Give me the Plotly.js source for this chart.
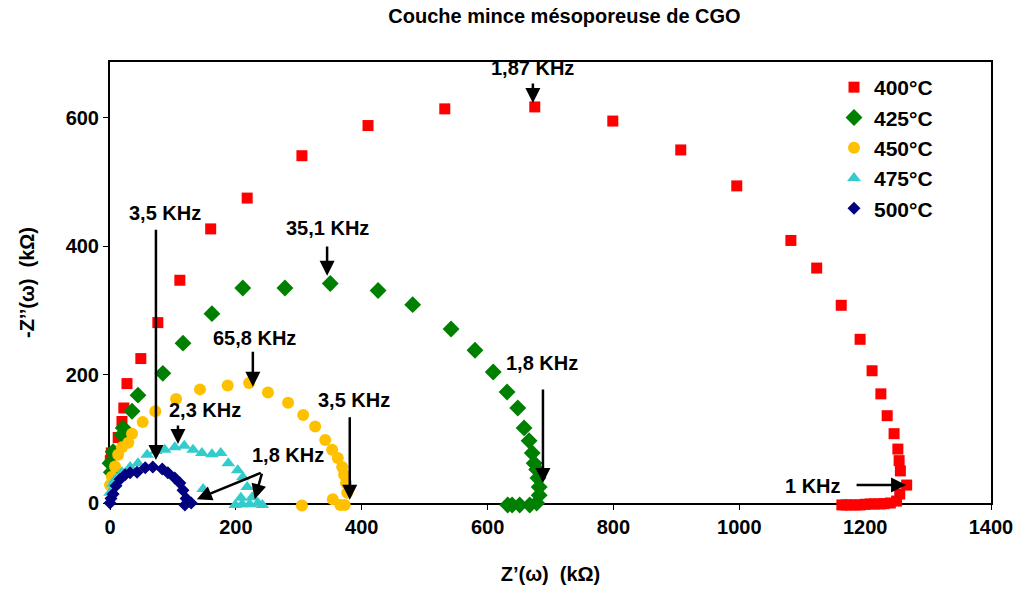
<!DOCTYPE html>
<html>
<head>
<meta charset="utf-8">
<script src="https://cdn.plot.ly/plotly-3.0.1.min.js"></script>
<style>html,body{margin:0;padding:0;background:#fff;}#chart{width:1019px;height:592px;}</style>
</head>
<body>
<div id="chart"></div>
<script>
// Series names
const seriesNames = ['400°C', '425°C', '450°C', '475°C', '500°C'];

// 400°C
const red400X = [0.5, 2, 13, 19, 22, 27, 49, 76, 111, 160, 218, 305, 410, 532, 675, 799, 907, 996, 1082, 1123, 1162, 1192, 1211, 1225, 1235, 1246, 1252, 1254, 1256, 1266, 1255, 1250, 1240, 1230, 1224, 1215, 1208, 1200, 1192, 1185, 1176, 1170, 1163];
const red400Y = [66, 78, 102, 127, 148, 186, 225, 281, 347, 427, 475, 541, 588, 614, 617, 595, 550, 494, 409, 366, 308, 255, 206, 170, 136, 108, 84, 66, 50, 28, 14, 3, 0, -1, -1.5, -1.5, -1.5, -2, -3, -3, -3, -3, -3];

// 425°C
const green425X = [0, 2, 5, 19, 21, 35, 44.5, 84, 116, 162, 211, 278, 350, 426, 481, 542, 580, 609, 631, 648, 658, 666, 671, 674, 678, 680, 682, 682, 678, 667, 651, 639, 632];
const green425Y = [62, 48, 80, 106, 117, 143, 168, 202, 249, 295, 335, 335, 342, 331, 309, 271, 238, 204, 173, 148, 117, 97, 78, 62, 52, 39, 25, 12, 0, -3, -3, -3, -3];

// 450°C
const yellow450X = [0, 3, 8, 13, 19, 29, 35, 52, 72, 105, 143, 187, 221, 251, 283, 307, 326, 342, 353, 362, 369, 372, 375, 377, 373, 366, 354, 305];
const yellow450Y = [28, 41, 57, 75, 87, 94, 108, 126, 143, 162, 177, 183, 187, 172, 156, 137, 119, 98, 83, 70, 56, 44, 31, 16, -3, -3, 6, -4];

// 475°C
const cyan475X = [0, 5, 8, 19, 32, 44.5, 59, 73, 87, 103, 118, 132, 146, 162, 176, 188, 203, 211, 218, 226, 235, 242, 222, 210, 199, 208, 148];
const cyan475Y = [16, 30, 36, 48, 56, 62, 75, 81, 83, 87, 89, 83, 78, 76, 78, 62, 51, 40, 25, 9, 0, -3, -2, -2, -3, 8, 22];

// 500°C
const navy500X = [0, 1.6, 5, 9.5, 16, 24, 32, 43, 56, 68, 83, 92, 103, 111, 116, 121, 119, 129];
const navy500Y = [0, 7, 14, 27, 37, 44, 47, 48, 55, 56, 53, 47, 39, 31, 20, 7, -3, 0];

// Axis ticks
const xTickVals = [0, 200, 400, 600, 800, 1000, 1200, 1400];
const yTickVals = [0, 200, 400, 600];

// Frequency labels: text, text position, arrow tail, arrow head (data units)
const freqLabels = ['1,87 KHz', '35,1 KHz', '3,5 KHz', '65,8 KHz', '1,8 KHz', '3,5 KHz', '2,3 KHz', '1,8 KHz', '1 KHz'];
const labelX = [672, 345, 87, 230, 686, 388, 151, 283, 1117];
const labelY = [678, 428, 452, 257, 218, 160, 145, 75, 26];
const arrowTailX = [672, 345, 73, 227, 688, 381, 108, 242, 242, 1184];
const arrowTailY = [656, 402, 428, 238, 179, 136, 123, 48, 48, 28];
const arrowHeadX = [672, 345, 73, 227, 688, 381, 108, 138, 230, 1265];
const arrowHeadY = [623, 354, 67, 181, 31, 5, 92, 6, 6, 28];

const FONT = 'Liberation Sans, Arial, sans-serif';

// Plot geometry (pixels)
const W = 1019, H = 592;
const plotL = 110, plotR = 991, plotT = 62, plotB = 503;
const pad = 24; // extra room so markers below/left of the axes stay visible
const xRange = [0, 1400], yRange = [0, 687];
const outerL = plotL - pad, outerB = plotB + pad;
const outerW = plotR - outerL, outerH = outerB - plotT;
const xScale = (plotR - plotL) / (xRange[1] - xRange[0]);
const yScale = (plotB - plotT) / (yRange[1] - yRange[0]);
const x2Range = [xRange[0] - pad / xScale, xRange[1]];
const y2Range = [yRange[0] - pad / yScale, yRange[1]];

function tr(name, x, y, symbol, color, size, i) {
  return {
    type: 'scatter', mode: 'markers', name: name, x: x, y: y,
    xaxis: 'x2', yaxis: 'y2', legendgroup: 'g' + i,
    cliponaxis: false,
    marker: {symbol: symbol, color: color, size: size, line: {width: 0}}
  };
}

const data = [
  tr(seriesNames[0], red400X, red400Y, 'square', '#FF0000', 11, 0),
  tr(seriesNames[1], green425X, green425Y, 'diamond', '#008000', 13, 1),
  tr(seriesNames[2], yellow450X, yellow450Y, 'circle', '#FFC000', 12, 2),
  tr(seriesNames[3], cyan475X, cyan475Y, 'triangle-up', '#33CCCC', 12, 3),
  tr(seriesNames[4], navy500X, navy500Y, 'diamond', '#000080', 10, 4)
];

const annotations = [];
freqLabels.forEach((t, i) => {
  annotations.push({
    x: labelX[i], y: labelY[i], xref: 'x', yref: 'y', text: t, showarrow: false,
    font: {family: FONT, size: 20, color: '#000', weight: 'bold'}
  });
});
arrowHeadX.forEach((hx, i) => {
  annotations.push({
    x: hx, y: arrowHeadY[i], xref: 'x', yref: 'y',
    ax: arrowTailX[i], ay: arrowTailY[i], axref: 'x', ayref: 'y',
    text: '', showarrow: true, arrowhead: 2, arrowsize: 1.2, arrowwidth: 2.5,
    arrowcolor: '#000', standoff: 0, startstandoff: 0
  });
});

const axisCommon = {
  showgrid: false, zeroline: false, showline: true, linecolor: '#000', linewidth: 2,
  mirror: true, ticks: 'outside', ticklen: 5, tickcolor: '#000', tickwidth: 1,
  tickfont: {family: FONT, size: 20, weight: 'bold'}
};
const hiddenAxis = {showgrid: false, zeroline: false, showline: false, showticklabels: false, ticks: ''};

const layout = {
  width: W, height: H,
  paper_bgcolor: '#fff', plot_bgcolor: 'rgba(0,0,0,0)',
  margin: {l: outerL, r: W - plotR, t: plotT, b: H - outerB},
  font: {family: FONT, color: '#000'},
  title: {
    text: 'Couche mince mésoporeuse de CGO',
    font: {family: FONT, size: 20, weight: 'bold', color: '#000'},
    x: 0.554, xref: 'container', y: 0.985, yref: 'container', yanchor: 'top'
  },
  xaxis: Object.assign({}, axisCommon, {
    domain: [pad / outerW, 1], anchor: 'y',
    range: xRange, tickvals: xTickVals, ticktext: xTickVals.map(String),
    title: {text: 'Z’(ω)  (kΩ)', font: {family: FONT, size: 20, weight: 'bold'}, standoff: 30}
  }),
  yaxis: Object.assign({}, axisCommon, {
    domain: [pad / outerH, 1], anchor: 'x',
    range: yRange, tickvals: yTickVals, ticktext: yTickVals.map(String),
    title: {text: '-Z’’(ω)  (kΩ)', font: {family: FONT, size: 20, weight: 'bold'}, standoff: 26}
  }),
  xaxis2: Object.assign({}, hiddenAxis, {domain: [0, 1], range: x2Range, anchor: 'y2'}),
  yaxis2: Object.assign({}, hiddenAxis, {domain: [0, 1], range: y2Range, anchor: 'x2'}),
  legend: {
    x: (834 - outerL) / outerW, y: (outerB - 67) / outerH, xanchor: 'left', yanchor: 'top',
    bgcolor: 'rgba(0,0,0,0)', borderwidth: 0,
    font: {family: FONT, size: 21, weight: 'bold', color: '#000'},
    tracegroupgap: 0
  },
  showlegend: true,
  annotations: annotations
};

Plotly.newPlot('chart', data, layout, {displayModeBar: false, staticPlot: true});
</script>
</body>
</html>
